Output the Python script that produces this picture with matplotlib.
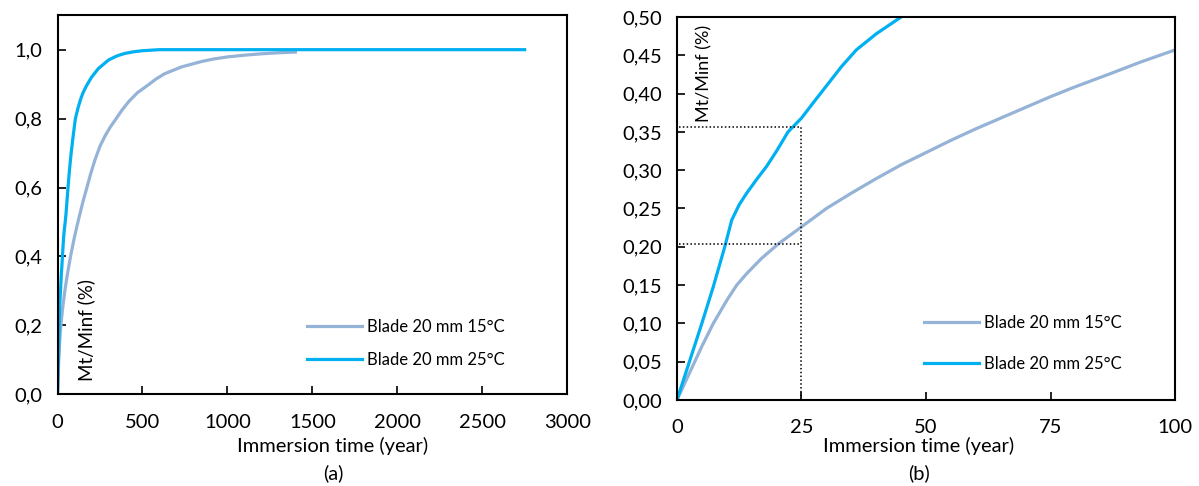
import matplotlib
matplotlib.use("Agg")
import matplotlib.pyplot as plt
from matplotlib.ticker import FuncFormatter

# immersion time (year) and Mt/Minf
T_15 = [0, 3, 5, 7.3, 10, 12, 14, 17, 20.4, 25, 30, 35, 40, 45, 50, 55, 60, 65, 70, 75, 80, 87, 93, 100,
        115, 130, 150, 170, 195, 220, 250, 280, 310, 345, 380, 420, 470, 540, 580, 630, 680, 730, 790,
        850, 920, 1000, 1100, 1200, 1300, 1400]
M_15 = [0, 0.042, 0.07, 0.10, 0.13, 0.15, 0.165, 0.185, 0.204, 0.226, 0.25, 0.27, 0.289, 0.307, 0.323,
        0.339, 0.354, 0.368, 0.382, 0.396, 0.409, 0.426, 0.441, 0.457,
        0.49, 0.52, 0.56, 0.595, 0.64, 0.68, 0.72, 0.75, 0.775, 0.80, 0.825, 0.85, 0.875, 0.90, 0.915,
        0.93, 0.94, 0.95, 0.958, 0.966, 0.973, 0.979, 0.984, 0.988, 0.991, 0.993]

T_25 = [0, 3, 5, 7.3, 9.6, 11, 12.5, 14, 16, 18, 20, 22.3, 25, 27, 30, 33, 36, 40, 45,
        50, 60, 70, 80, 92, 105, 120, 135, 150, 170, 200, 240, 300, 350, 395, 450, 500, 600,
        1000, 2000, 2750]
M_25 = [0, 0.06, 0.10, 0.148, 0.20, 0.235, 0.255, 0.27, 0.288, 0.305, 0.325, 0.35, 0.368, 0.385, 0.41,
        0.435, 0.457, 0.478, 0.50,
        0.525, 0.59, 0.65, 0.70, 0.75, 0.80, 0.83, 0.855, 0.875, 0.895, 0.92, 0.945, 0.97, 0.982, 0.989,
        0.994, 0.997, 1.0, 1.0, 1.0, 1.0]

LABEL_15 = "Blade 20 mm 15°C"
LABEL_25 = "Blade 20 mm 25°C"
COLOR_15 = "#95b3d7"
COLOR_25 = "#00b0f0"

# guide lines on panel (b)
GUIDE_T = 25
GUIDE_M = [0.357, 0.203]

plt.rcParams["font.family"] = ["Lato", "DejaVu Sans"]
fig = plt.figure(figsize=(11.99, 4.86), dpi=100)

ax_a = fig.add_axes([0.048, 0.1887, 0.425, 0.780])
ax_b = fig.add_axes([0.5646, 0.177, 0.4154, 0.788])

comma = FuncFormatter(lambda v, _: f"{v:.1f}".replace(".", ","))
comma2 = FuncFormatter(lambda v, _: f"{v:.2f}".replace(".", ","))

for ax in (ax_a, ax_b):
    ax.plot(T_15, M_15, color=COLOR_15, lw=2.3, label=LABEL_15)
    ax.plot(T_25, M_25, color=COLOR_25, lw=2.3, label=LABEL_25)
    ax.tick_params(direction="in", length=6, width=1.2, labelsize=14.5)
    ax.tick_params(axis="x", pad=14)
    ax.tick_params(axis="y", pad=11)
    for s in ax.spines.values():
        s.set_linewidth(1.5)

ax_a.set_xlim(0, 3000)
ax_a.set_ylim(0, 1.1)
ax_a.set_xticks([0, 500, 1000, 1500, 2000, 2500, 3000])
ax_a.set_yticks([0, 0.2, 0.4, 0.6, 0.8, 1.0])
ax_a.yaxis.set_major_formatter(comma)
ax_a.text(0.057, 0.035, "Mt/Minf (%)", transform=ax_a.transAxes, rotation=90,
          fontsize=13.5, ha="center", va="bottom")
ax_a.legend(loc="lower left", bbox_to_anchor=(0.46, 0.03), frameon=False,
            fontsize=12, handlelength=3.3, handletextpad=0.3, labelspacing=1.0)

ax_b.set_xlim(0, 100)
ax_b.set_ylim(0, 0.5)
ax_b.set_xticks([0, 25, 50, 75, 100])
ax_b.set_yticks([0, 0.05, 0.10, 0.15, 0.20, 0.25, 0.30, 0.35, 0.40, 0.45, 0.50])
ax_b.yaxis.set_major_formatter(comma2)
for m in GUIDE_M:
    ax_b.plot([0.5, GUIDE_T], [m, m], color="black", ls=(0, (1, 1.5)), lw=1.1)
ax_b.plot([GUIDE_T, GUIDE_T], [0, GUIDE_M[0]], color="black", ls=(0, (1, 1.5)), lw=1.1)
ax_b.text(0.055, 0.98, "Mt/Minf (%)", transform=ax_b.transAxes, rotation=90,
          fontsize=13, ha="center", va="top")
ax_b.legend(loc="lower left", bbox_to_anchor=(0.465, 0.035), frameon=False,
            fontsize=12, handlelength=3.3, handletextpad=0.3, labelspacing=1.5)

fig.text(333 / 1199, 1 - 446 / 486, "Immersion time (year)", fontsize=14.5, ha="center", va="center")
fig.text(333 / 1199, 1 - 473 / 486, "(a)", fontsize=14.5, ha="center", va="center")
fig.text(919 / 1199, 1 - 446 / 486, "Immersion time (year)", fontsize=14.5, ha="center", va="center")
fig.text(919 / 1199, 1 - 473 / 486, "(b)", fontsize=14.5, ha="center", va="center")

fig.savefig("out.png", dpi=100)
